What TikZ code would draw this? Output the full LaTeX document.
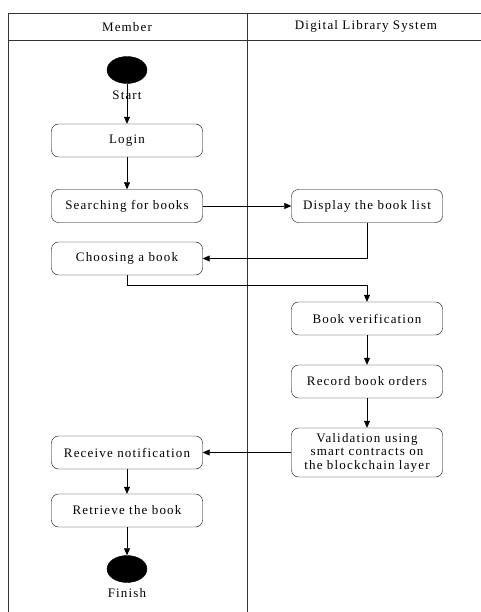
\documentclass[tikz,border=0pt]{standalone}
\usepackage{fontspec}
\setmainfont{Liberation Serif}
\newfontfamily\widefont{Liberation Serif}[LetterSpace=9]
\usetikzlibrary{shapes.geometric, arrows.meta, positioning, calc}

\tikzset{
  txt/.style={font=\widefont\fontsize{13}{13.5}\selectfont},
  act/.style={draw, rounded corners=7pt, minimum width=151pt, minimum height=33pt, txt, align=center, inner sep=1pt},
  dot/.style={draw, fill=black, ellipse, minimum width=40pt, minimum height=27pt, inner sep=0pt},
  flow/.style={-{Triangle[length=7pt, width=6pt]}, semithick},
  lane/.style={draw=black!80, line width=0.6pt}
}

\begin{document}
\begin{tikzpicture}[x=1pt, y=-1pt]
  \useasboundingbox (0,0) rectangle (481,612);
  % swimlanes
  \draw[lane] (481,13) -- (8,13) -- (8,612);
  \draw[lane] (8,40) -- (481,40);
  \draw[lane] (247,13) -- (247,612);
  \node[txt] (hmember) at (127,27) {Member};
  \node[txt] (hsystem) at (366,26) {Digital Library System};

  % member lane
  \node[dot] (start) at (127,70) {};
  \node[txt] (startlbl) at (127,95) {Start};
  \node[act] (login) at (127,140.5) {Login};
  \node[act] (search) at (127,206) {Searching for books};
  \node[act] (choose) at (127,258.5) {Choosing a book};
  \node[act] (notify) at (127,452.5) {Receive notification};
  \node[act] (retrieve) at (127,510.5) {Retrieve the book};
  \node[dot] (finish) at (127,569) {};
  \node[txt] (finishlbl) at (127,593) {Finish};

  % system lane
  \node[act] (display) at (367,206) {Display the book list};
  \node[act] (verify) at (367,318.5) {Book verification};
  \node[act] (record) at (367,381.5) {Record book orders};
  \node[act, minimum height=49pt] (validate) at (367,452.5) {Validation using\\smart contracts on\\the blockchain layer};

  % flows
  \draw[flow] (start) -- (login);
  \draw[flow] (login) -- (search);
  \draw[flow] (search) -- (display);
  \draw[flow] (display.south) |- (choose.east);
  \draw[flow] (choose.south) -- ++(0,10) -| (verify.north);
  \draw[flow] (verify) -- (record);
  \draw[flow] (record) -- (validate);
  \draw[flow] (validate) -- (notify);
  \draw[flow] (notify) -- (retrieve);
  \draw[flow] (retrieve) -- (finish);
\end{tikzpicture}
\end{document}
